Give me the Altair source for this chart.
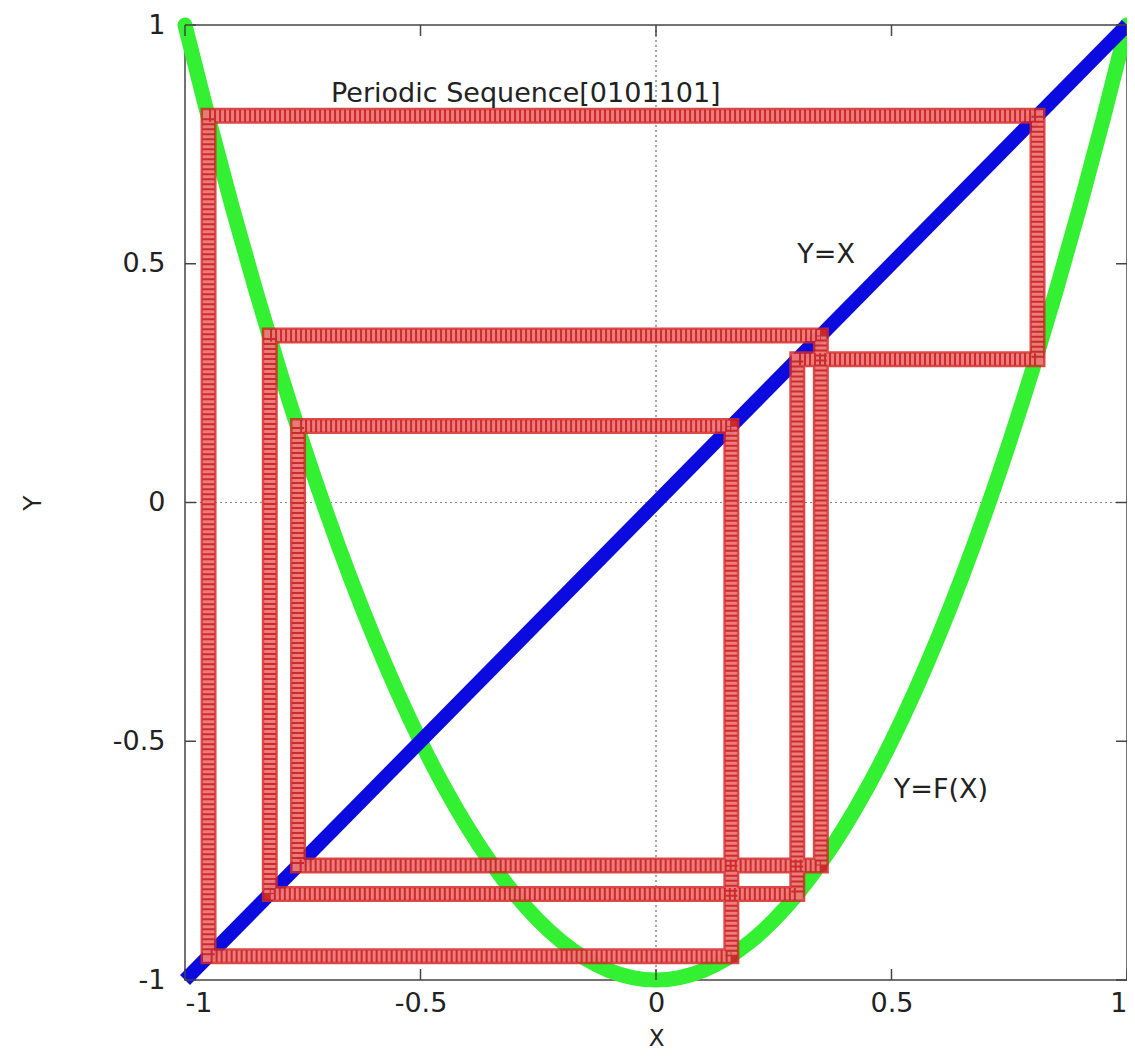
import altair as alt
import pandas as pd

# ---- data ----
curve_x = [-1.0, -0.95, -0.9, -0.85, -0.8, -0.75, -0.7, -0.65, -0.6, -0.55, -0.5,
           -0.45, -0.4, -0.35, -0.3, -0.25, -0.2, -0.15, -0.1, -0.05, 0.0,
           0.05, 0.1, 0.15, 0.2, 0.25, 0.3, 0.35, 0.4, 0.45, 0.5,
           0.55, 0.6, 0.65, 0.7, 0.75, 0.8, 0.85, 0.9, 0.95, 1.0]
curve_y = [1.0, 0.805, 0.62, 0.445, 0.28, 0.125, -0.02, -0.155, -0.28, -0.395, -0.5,
           -0.595, -0.68, -0.755, -0.82, -0.875, -0.92, -0.955, -0.98, -0.995, -1.0,
           -0.995, -0.98, -0.955, -0.92, -0.875, -0.82, -0.755, -0.68, -0.595, -0.5,
           -0.395, -0.28, -0.155, -0.02, 0.125, 0.28, 0.445, 0.62, 0.805, 1.0]
diag_x = [-1.0, 1.0]
diag_y = [-1.0, 1.0]
orbit = [0.81, 0.30, -0.82, 0.35, -0.76, 0.16, -0.95]   # Periodic Sequence[0101101]
tick_values = [-1.0, -0.5, 0.0, 0.5, 1.0]
labels = ["Periodic Sequence[0101101]", "Y=X", "Y=F(X)"]
label_x = [-0.69, 0.30, 0.505]
label_y = [0.855, 0.518, -0.603]

W, H = 942, 955
FONT = "DejaVu Sans"

curve_df = pd.DataFrame({"x": curve_x, "y": curve_y, "i": range(len(curve_x))})
diag_df = pd.DataFrame({"x": diag_x, "y": diag_y})

rows = []
n = len(orbit)
for k in range(n):
    a, b = orbit[k], orbit[(k + 1) % n]
    rows.append({"x": a, "y": a})
    rows.append({"x": a, "y": b})
rows.append({"x": orbit[0], "y": orbit[0]})
cob_df = pd.DataFrame(rows)
cob_df["i"] = range(len(cob_df))
tick_df = pd.DataFrame({"v": tick_values})
text_df = pd.DataFrame({"t": labels, "x": label_x, "y": label_y})

xs = alt.Scale(domain=[-1, 1], nice=False, zero=False)
ys = alt.Scale(domain=[-1, 1], nice=False, zero=False)

x_axis = alt.Axis(values=tick_values, labelExpr="'' + datum.value", grid=False,
                  ticks=False, tickSize=0, domain=False, labelPadding=10,
                  labelFont=FONT, labelFontSize=27, labelColor="#222",
                  title="X", titleFont=FONT, titleFontSize=23, titleFontWeight="normal",
                  titleColor="#222", titleY=58, titleBaseline="middle")
y_axis = alt.Axis(values=tick_values, labelExpr="'' + datum.value", grid=False,
                  ticks=False, tickSize=0, domain=False, labelPadding=20,
                  labelFont=FONT, labelFontSize=27, labelColor="#222",
                  title="Y", titleFont=FONT, titleFontSize=25, titleFontWeight="normal",
                  titleColor="#222", titleX=-153, titleY=H / 2,
                  titleBaseline="middle", titleAlign="center")

base_axes = alt.Chart(diag_df).mark_point(opacity=0).encode(
    x=alt.X("x:Q", scale=xs, axis=x_axis),
    y=alt.Y("y:Q", scale=ys, axis=y_axis),
)

zero_v = alt.Chart(diag_df).mark_rule(color="#888", strokeDash=[2, 3], strokeWidth=1).encode(
    x=alt.datum(0, scale=xs), y=alt.value(0), y2=alt.value(H))
zero_h = alt.Chart(diag_df).mark_rule(color="#888", strokeDash=[2, 3], strokeWidth=1).encode(
    y=alt.datum(0, scale=ys), x=alt.value(0), x2=alt.value(W))

green = alt.Chart(curve_df).mark_line(color="#33f033", strokeWidth=15,
                                      interpolate="monotone", strokeCap="round").encode(
    x=alt.X("x:Q", scale=xs), y=alt.Y("y:Q", scale=ys), order="i:Q")

blue = alt.Chart(diag_df).mark_line(color="#0b0be0", strokeWidth=14).encode(
    x=alt.X("x:Q", scale=xs), y=alt.Y("y:Q", scale=ys))

cob_enc = dict(x=alt.X("x:Q", scale=xs), y=alt.Y("y:Q", scale=ys), order="i:Q")
red_outer = alt.Chart(cob_df).mark_line(color="#d42828", strokeWidth=16, opacity=0.85,
                                        strokeJoin="miter", strokeCap="square").encode(**cob_enc)
red_inner = alt.Chart(cob_df).mark_line(color="#f28a8a", strokeWidth=11, opacity=0.8,
                                        strokeJoin="miter", strokeCap="square").encode(**cob_enc)
red_stripes = alt.Chart(cob_df).mark_line(color="#c01010", strokeWidth=12, opacity=0.75,
                                          strokeDash=[2, 3],
                                          strokeJoin="miter").encode(**cob_enc)

tick_style = dict(color="#444", strokeWidth=1.5)
t_bottom = alt.Chart(tick_df).mark_rule(**tick_style).encode(
    x=alt.X("v:Q", scale=xs), y=alt.value(H), y2=alt.value(H - 11))
t_top = alt.Chart(tick_df).mark_rule(**tick_style).encode(
    x=alt.X("v:Q", scale=xs), y=alt.value(0), y2=alt.value(11))
t_left = alt.Chart(tick_df).mark_rule(**tick_style).encode(
    y=alt.Y("v:Q", scale=ys), x=alt.value(0), x2=alt.value(11))
t_right = alt.Chart(tick_df).mark_rule(**tick_style).encode(
    y=alt.Y("v:Q", scale=ys), x=alt.value(W), x2=alt.value(W - 11))

texts = alt.Chart(text_df).mark_text(font=FONT, fontSize=27, color="#222",
                                     align="left", baseline="middle").encode(
    x=alt.X("x:Q", scale=xs), y=alt.Y("y:Q", scale=ys), text="t:N")

chart = alt.layer(
    base_axes, zero_v, zero_h, green, blue, red_outer, red_inner, red_stripes,
    t_bottom, t_top, t_left, t_right, texts
).properties(
    width=W, height=H,
    background="white",
    autosize=alt.AutoSizeParams(type="none"),
    padding={"left": 177, "top": 17, "right": 0, "bottom": 70},
).configure_view(
    stroke="#444", strokeWidth=1.5
)

chart.save("out.html", embed_options={"renderer": "svg", "actions": False})
